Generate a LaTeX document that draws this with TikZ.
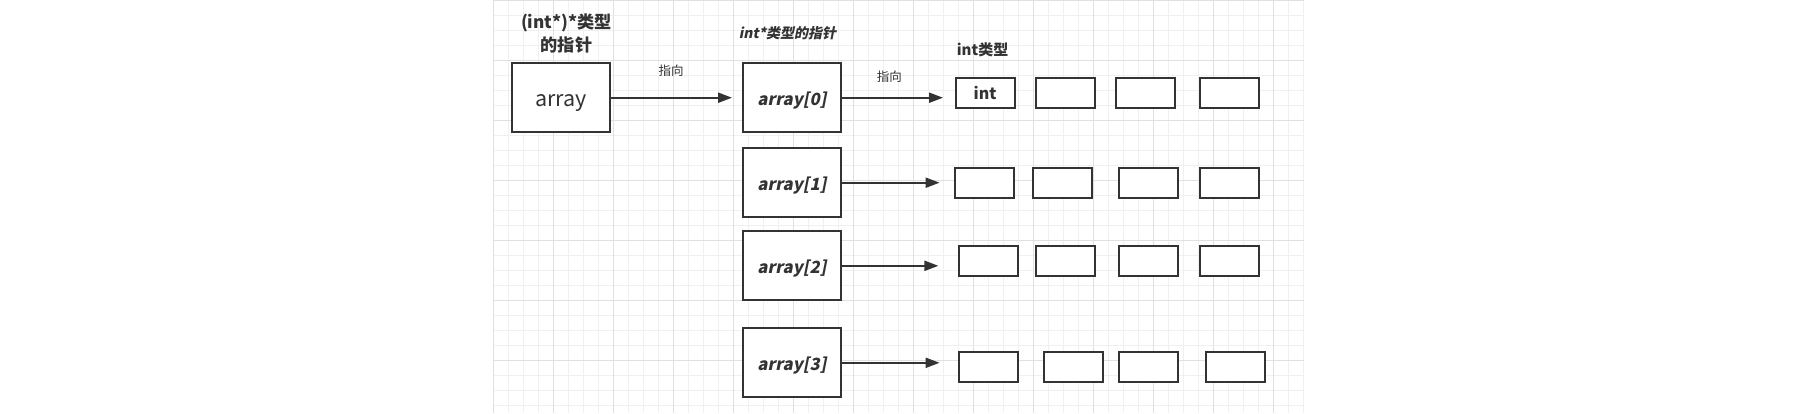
\documentclass[tikz,border=0pt]{standalone}
\usepackage{fontspec}
\setmainfont{Noto Sans CJK SC}
\newfontfamily\ptrslant{Noto Sans CJK SC}[FakeSlant=0.2]
\usepackage{tikz}
\usetikzlibrary{arrows.meta,positioning}
\definecolor{ptrdark}{RGB}{51,51,51}
\definecolor{gridminor}{RGB}{240,240,240}
\definecolor{gridmajor}{RGB}{224,224,224}
\tikzstyle{ptrbox} = [rectangle, minimum width=98pt, minimum height=69pt, inner sep=0pt, text height=15pt, text depth=0pt, draw=ptrdark, fill=white, text=ptrdark, line width=2pt]
\tikzstyle{cell} = [rectangle, minimum width=59pt, minimum height=30pt, inner sep=0pt, draw=ptrdark, fill=white, text=ptrdark, line width=2pt]
\tikzstyle{arrow} = [line width=2pt, draw=ptrdark, -{Triangle[length=14pt,width=10pt]}]
\tikzstyle{lbl} = [inner sep=0pt, text=ptrdark]
\tikzstyle{gridline} = [line width=1pt, draw=gridminor]

\begin{document}
\begin{tikzpicture}[x=1pt, y=-1pt]
\fill[white] (0,0) rectangle (1800,413);
\useasboundingbox (0,0) rectangle (1800,413);

% Grid
\foreach \gx in {0,15,...,810} \draw[gridline] (493.5+\gx,0) -- (493.5+\gx,413);
\foreach \gy in {0,15,...,405} \draw[gridline] (493.5,\gy) -- (1304,\gy);
\foreach \gx in {0,60,...,780} \draw[gridline, draw=gridmajor] (493.5+\gx,0) -- (493.5+\gx,413);
\foreach \gy in {0,60,...,360} \draw[gridline, draw=gridmajor] (493.5,\gy) -- (1304,\gy);

% Pointer to pointer
\node (arr) [ptrbox, text height=18pt, font=\fontsize{21.5}{24}\selectfont] at (560.8,97.7) {array};
\node (arrttl) [lbl, align=center, font=\bfseries\fontsize{17.2}{23}\selectfont] at (566.5,33.5) {(int*)*类型\\的指针};

% Row pointers
\foreach \k/\ky in {0/97.7,1/182.7,2/265.8,3/362.8}
  \node (arr\k) [ptrbox, font=\ptrslant\bfseries\fontsize{16.8}{20}\selectfont] at (792,\ky) {array[\k]};
\node (rowttl) [lbl, font=\ptrslant\bfseries\fontsize{14}{16}\selectfont] at (787.5,33.3) {int*类型的指针};

% int cells
\node (c00) [cell, font=\bfseries\fontsize{16}{18}\selectfont] at (985,93.2) {int};
\foreach \r/\cy/\xb/\xc/\xd in {0/93.2/1065.8/1145.8/1229.8}{
  \node (c\r1) [cell] at (\xb,\cy) {};
  \node (c\r2) [cell] at (\xc,\cy) {};
  \node (c\r3) [cell] at (\xd,\cy) {};
}
\foreach \r/\cy/\xa/\xb/\xc/\xd in {1/183/984.5/1062.7/1148.2/1229.1,2/261.3/988.5/1065/1148.2/1229.1,3/367.3/988.5/1073.3/1148.2/1235}{
  \node (c\r0) [cell] at (\xa,\cy) {};
  \node (c\r1) [cell] at (\xb,\cy) {};
  \node (c\r2) [cell] at (\xc,\cy) {};
  \node (c\r3) [cell] at (\xd,\cy) {};
}
\node (intttl) [lbl, anchor=west, font=\bfseries\fontsize{15}{18}\selectfont] at (956.7,50) {int类型};

% Arrows
\draw[arrow, shorten >=10pt] (arr) -- node[pos=0.46, above=20pt, lbl, font=\fontsize{12.5}{15}\selectfont] {指向} (arr0);
\draw[arrow, shorten >=11.5pt] (arr0.east) -- node[pos=0.42, above=14pt, lbl, font=\fontsize{12.5}{15}\selectfont] {指向} (arr0.east -| c00.west);
\draw[arrow, shorten >=14.4pt] (arr1.east) -- (arr1.east -| c10.west);
\draw[arrow, shorten >=19.6pt] (arr2.east) -- (arr2.east -| c20.west);
\draw[arrow, shorten >=18.4pt] (arr3.east) -- (arr3.east -| c30.west);
\end{tikzpicture}
\end{document}
